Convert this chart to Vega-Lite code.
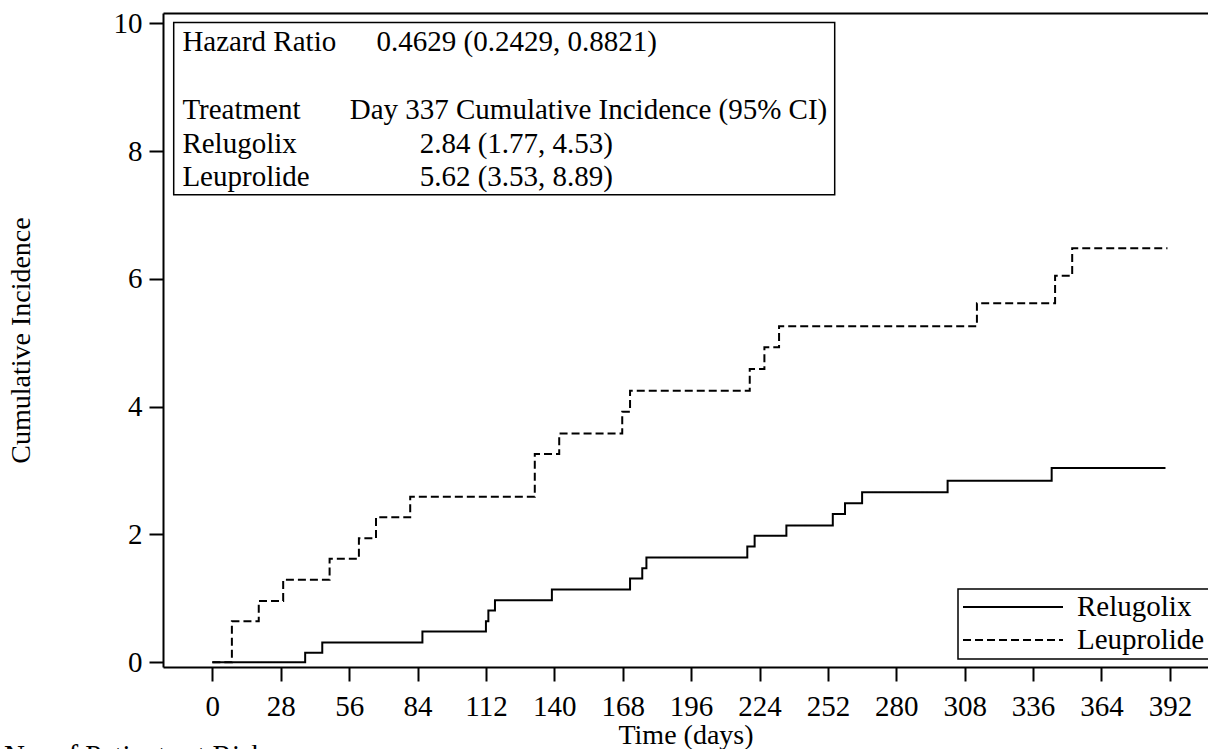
{
  "$schema": "https://vega.github.io/schema/vega-lite/v6.json",
  "width": 1045,
  "height": 654,
  "autosize": {"type": "none"},
  "padding": {"left": 163, "top": 13, "right": 0, "bottom": 82},
  "background": "white",
  "config": {
    "font": "Liberation Serif",
    "view": {"stroke": null},
    "axis": {
      "domainColor": "black",
      "domainWidth": 2,
      "tickColor": "black",
      "tickWidth": 2,
      "tickSize": 14,
      "labelColor": "black",
      "labelFontSize": 29,
      "labelFont": "Liberation Serif",
      "labelOverlap": false,
      "labelFlush": false,
      "titleColor": "black",
      "titleFont": "Liberation Serif",
      "titleFontSize": 28,
      "titleFontWeight": "normal",
      "grid": false
    },
    "legend": {
      "orient": "none",
      "legendX": 795,
      "legendY": 576,
      "title": null,
      "symbolType": "stroke",
      "symbolSize": 10000,
      "symbolStrokeWidth": 2,
      "symbolStrokeColor": "black",
      "clipHeight": 28,
      "labelFont": "Liberation Serif",
      "labelFontSize": 29,
      "labelColor": "black",
      "labelOffset": 13,
      "strokeColor": "black",
      "strokeWidth": 1.5,
      "padding": 4,
      "rowPadding": 4
    }
  },
  "title": {
    "text": "No. of Patients at Risk",
    "orient": "bottom",
    "anchor": "start",
    "frame": "bounds",
    "font": "Liberation Serif",
    "fontSize": 29,
    "fontWeight": "normal",
    "color": "black",
    "offset": -7,
    "dx": -3
  },
  "datasets": {
    "curves": [
      {"group": "Relugolix", "day": 0, "ci": 0},
      {"group": "Relugolix", "day": 38, "ci": 0.15},
      {"group": "Relugolix", "day": 45, "ci": 0.31},
      {"group": "Relugolix", "day": 86, "ci": 0.48},
      {"group": "Relugolix", "day": 112, "ci": 0.64},
      {"group": "Relugolix", "day": 113, "ci": 0.81},
      {"group": "Relugolix", "day": 115.7, "ci": 0.97},
      {"group": "Relugolix", "day": 139, "ci": 1.14},
      {"group": "Relugolix", "day": 171, "ci": 1.31},
      {"group": "Relugolix", "day": 176, "ci": 1.47},
      {"group": "Relugolix", "day": 177.7, "ci": 1.64},
      {"group": "Relugolix", "day": 219, "ci": 1.81},
      {"group": "Relugolix", "day": 222, "ci": 1.98},
      {"group": "Relugolix", "day": 235, "ci": 2.14},
      {"group": "Relugolix", "day": 254, "ci": 2.32},
      {"group": "Relugolix", "day": 259, "ci": 2.49},
      {"group": "Relugolix", "day": 266, "ci": 2.66},
      {"group": "Relugolix", "day": 301, "ci": 2.84},
      {"group": "Relugolix", "day": 343.6, "ci": 3.04},
      {"group": "Relugolix", "day": 390.2, "ci": 3.04},
      {"group": "Leuprolide", "day": 0, "ci": 0},
      {"group": "Leuprolide", "day": 8, "ci": 0.64},
      {"group": "Leuprolide", "day": 19, "ci": 0.96},
      {"group": "Leuprolide", "day": 29, "ci": 1.29},
      {"group": "Leuprolide", "day": 48, "ci": 1.62},
      {"group": "Leuprolide", "day": 60, "ci": 1.94},
      {"group": "Leuprolide", "day": 67, "ci": 2.27},
      {"group": "Leuprolide", "day": 81, "ci": 2.59},
      {"group": "Leuprolide", "day": 132, "ci": 3.26},
      {"group": "Leuprolide", "day": 142, "ci": 3.58},
      {"group": "Leuprolide", "day": 167.8, "ci": 3.92},
      {"group": "Leuprolide", "day": 171, "ci": 4.25},
      {"group": "Leuprolide", "day": 220, "ci": 4.59},
      {"group": "Leuprolide", "day": 226, "ci": 4.93},
      {"group": "Leuprolide", "day": 232, "ci": 5.26},
      {"group": "Leuprolide", "day": 313, "ci": 5.62},
      {"group": "Leuprolide", "day": 345, "ci": 6.05},
      {"group": "Leuprolide", "day": 352, "ci": 6.48},
      {"group": "Leuprolide", "day": 391, "ci": 6.48}
    ],
    "inset": [
      {"line": 0, "col": "label", "text": "Hazard Ratio"},
      {"line": 0, "col": "hr", "text": "0.4629 (0.2429, 0.8821)"},
      {"line": 2, "col": "label", "text": "Treatment"},
      {"line": 2, "col": "head", "text": "Day 337 Cumulative Incidence (95% CI)"},
      {"line": 3, "col": "label", "text": "Relugolix"},
      {"line": 3, "col": "est", "text": "2.84 (1.77, 4.53)"},
      {"line": 4, "col": "label", "text": "Leuprolide"},
      {"line": 4, "col": "est", "text": "5.62 (3.53, 8.89)"}
    ]
  },
  "resolve": {"scale": {"x": "independent", "y": "independent"}},
  "layer": [
    {
      "data": {"name": "curves"},
      "layer": [
        {
          "transform": [{"filter": "datum.group === 'Relugolix'"}],
          "mark": {"type": "line", "interpolate": "step-after", "color": "black", "strokeWidth": 2},
          "encoding": {
            "x": {
              "field": "day", "type": "quantitative",
              "scale": {"domain": [-20.2, 407.6], "nice": false, "zero": false},
              "axis": {
                "orient": "bottom",
                "values": [0, 28, 56, 84, 112, 140, 168, 196, 224, 252, 280, 308, 336, 364, 392],
                "title": "Time (days)",
                "labelPadding": 11,
                "titlePadding": 0
              }
            },
            "y": {
              "field": "ci", "type": "quantitative",
              "scale": {"domain": [-0.074, 10.16], "nice": false, "zero": false},
              "axis": {
                "orient": "left",
                "values": [0, 2, 4, 6, 8, 10],
                "title": "Cumulative Incidence",
                "labelPadding": 7,
                "titlePadding": 78
              }
            },
            "strokeDash": {
              "field": "group", "type": "nominal",
              "scale": {"domain": ["Relugolix", "Leuprolide"], "range": [[1, 0], [8, 4]]}
            }
          }
        },
        {
          "transform": [{"filter": "datum.group === 'Leuprolide'"}],
          "mark": {"type": "line", "interpolate": "step-after", "color": "black", "strokeWidth": 2},
          "encoding": {
            "x": {
              "field": "day", "type": "quantitative",
              "scale": {"domain": [-20.2, 407.6], "nice": false, "zero": false},
              "axis": {"orient": "top", "labels": false, "ticks": false, "title": null, "domain": true}
            },
            "y": {
              "field": "ci", "type": "quantitative",
              "scale": {"domain": [-0.074, 10.16], "nice": false, "zero": false},
              "axis": {
                "orient": "left",
                "values": [0, 2, 4, 6, 8, 10],
                "title": "Cumulative Incidence",
                "labelPadding": 7,
                "titlePadding": 78
              }
            },
            "strokeDash": {
              "field": "group", "type": "nominal",
              "scale": {"domain": ["Relugolix", "Leuprolide"], "range": [[1, 0], [8, 4]]}
            }
          }
        }
      ]
    },
    {
      "layer": [
        {
          "data": {"values": [{}]},
          "mark": {"type": "rect", "fill": null, "stroke": "black", "strokeWidth": 1.5},
          "encoding": {
            "x": {"datum": -0.052, "type": "quantitative", "scale": {"domain": [0, 1], "range": [19.4, 186.7]}, "axis": null},
            "x2": {"datum": 3.899},
            "y": {"datum": -0.86, "type": "quantitative", "scale": {"domain": [0, 4], "range": [38.4, 173.4]}, "axis": null},
            "y2": {"datum": 4.25}
          }
        },
        {
          "data": {"name": "inset"},
          "transform": [{"filter": "datum.col === 'label'"}],
          "mark": {"type": "text", "align": "left", "baseline": "alphabetic", "fontSize": 29, "font": "Liberation Serif", "color": "black"},
          "encoding": {
            "x": {"datum": 0, "type": "quantitative", "scale": {"domain": [0, 1], "range": [19.4, 186.7]}, "axis": null},
            "y": {"field": "line", "type": "quantitative", "scale": {"domain": [0, 4], "range": [38.4, 173.4]}, "axis": null},
            "text": {"field": "text"}
          }
        },
        {
          "data": {"name": "inset"},
          "transform": [{"filter": "datum.col === 'head'"}],
          "mark": {"type": "text", "align": "left", "baseline": "alphabetic", "fontSize": 29, "font": "Liberation Serif", "color": "black"},
          "encoding": {
            "x": {"datum": 1, "type": "quantitative", "scale": {"domain": [0, 1], "range": [19.4, 186.7]}, "axis": null},
            "y": {"field": "line", "type": "quantitative", "scale": {"domain": [0, 4], "range": [38.4, 173.4]}, "axis": null},
            "text": {"field": "text"}
          }
        },
        {
          "data": {"name": "inset"},
          "transform": [{"filter": "datum.col === 'hr'"}],
          "mark": {"type": "text", "align": "left", "baseline": "alphabetic", "fontSize": 29, "font": "Liberation Serif", "color": "black"},
          "encoding": {
            "x": {"datum": 1.16, "type": "quantitative", "scale": {"domain": [0, 1], "range": [19.4, 186.7]}, "axis": null},
            "y": {"field": "line", "type": "quantitative", "scale": {"domain": [0, 4], "range": [38.4, 173.4]}, "axis": null},
            "text": {"field": "text"}
          }
        },
        {
          "data": {"name": "inset"},
          "transform": [{"filter": "datum.col === 'est'"}],
          "mark": {"type": "text", "align": "left", "baseline": "alphabetic", "fontSize": 29, "font": "Liberation Serif", "color": "black"},
          "encoding": {
            "x": {"datum": 1.418, "type": "quantitative", "scale": {"domain": [0, 1], "range": [19.4, 186.7]}, "axis": null},
            "y": {"field": "line", "type": "quantitative", "scale": {"domain": [0, 4], "range": [38.4, 173.4]}, "axis": null},
            "text": {"field": "text"}
          }
        }
      ]
    }
  ]
}
